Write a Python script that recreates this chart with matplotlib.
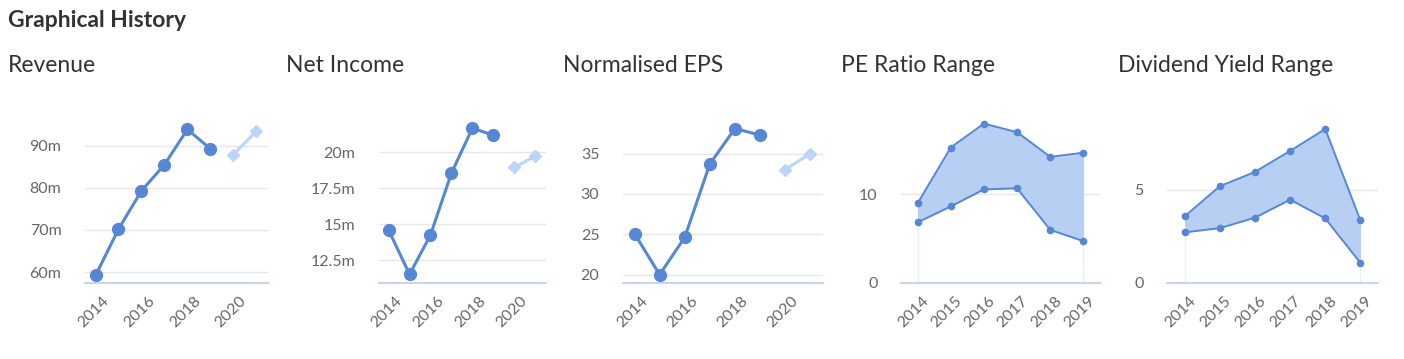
import pandas as pd
import numpy as np
import matplotlib
matplotlib.use("Agg")
import matplotlib.pyplot as plt
import matplotlib.dates as mdates
from matplotlib.transforms import ScaledTranslation

plt.rcParams['font.family'] = ['Lato', 'DejaVu Sans']

# === data ===
hist_dates = ['2013-11-30', '2014-11-30', '2015-11-30', '2016-11-30', '2017-11-30', '2018-11-30']
fc_dates = ['2019-11-30', '2020-11-30']

revenue = [59.2, 70.2, 79.3, 85.5, 93.9, 89.3]
revenue_fc = [87.9, 93.4]

net_income = [14.59, 11.53, 14.26, 18.56, 21.66, 21.17]
net_income_fc = [18.94, 19.72]

eps = [25.07, 20.0, 24.6, 33.7, 38.1, 37.3]
eps_fc = [33.0, 35.0]

range_years = ['2014', '2015', '2016', '2017', '2018', '2019']
pe_high = [8.98, 15.27, 17.97, 17.0, 14.22, 14.69]
pe_low = [6.83, 8.63, 10.55, 10.67, 5.98, 4.72]
dy_high = [3.58, 5.2, 5.97, 7.10, 8.28, 3.36]
dy_low = [2.72, 2.95, 3.51, 4.48, 3.47, 1.08]

# === styles ===
BLUE = '#5787d4'
LIGHT = '#bcd4f7'
FILL = '#b8cff4'
GRID = '#e6e6e6'
AXIS = '#c8d5ee'
TICK = '#666666'
TEXT = '#333333'

W, H = 1404, 359
fig = plt.figure(figsize=(W / 100, H / 100), dpi=100)


def make_axes(x0, x1, y0=110, y1=283):
    return fig.add_axes([x0 / W, (H - y1) / H, (x1 - x0) / W, (y1 - y0) / H])


def style(ax, yticks, ylabels):
    for s in ['top', 'right', 'left']:
        ax.spines[s].set_visible(False)
    ax.spines['bottom'].set_color(AXIS)
    ax.spines['bottom'].set_linewidth(1.5)
    ax.set_yticks(yticks)
    ax.set_yticklabels(ylabels)
    ax.tick_params(axis='y', length=0, pad=17, labelsize=11.5, labelcolor=TICK)
    ax.tick_params(axis='x', length=0, pad=4, labelsize=11.5, labelcolor=TICK)
    ax.grid(axis='y', color=GRID, lw=1)
    ax.set_axisbelow(True)
    for lab in ax.get_xticklabels():
        lab.set_rotation(45)
        lab.set_ha('right')
        lab.set_va('center')
        lab.set_rotation_mode('anchor')
        lab.set_transform(lab.get_transform() + ScaledTranslation(0.09, -0.1, fig.dpi_scale_trans))


hd = pd.to_datetime(hist_dates)
fd = pd.to_datetime(fc_dates)
xlim = (pd.Timestamp('2013-06-15'), pd.Timestamp('2021-06-05'))


def line_panel(x0, x1, vals, fc, ylim, yticks, ylabels):
    ax = make_axes(x0, x1)
    ax.plot(hd, vals, color=BLUE, lw=2.2, marker='o', ms=8.5, zorder=3, clip_on=False)
    ax.plot(fd, fc, color=LIGHT, lw=2.2, marker='D', ms=6, zorder=3, clip_on=False)
    ax.set_xlim(*xlim)
    ax.set_ylim(*ylim)
    ax.xaxis.set_major_locator(mdates.YearLocator(2))
    ax.xaxis.set_major_formatter(mdates.DateFormatter('%Y'))
    style(ax, yticks, ylabels)
    return ax


def range_panel(x0, x1, low, high, ylim, yticks, ylabels):
    ax = make_axes(x0, x1)
    idx = np.arange(len(range_years))
    ax.vlines([idx[0], idx[-1]], 0, [high[0], high[-1]], color='#e8edf8', lw=1, zorder=1)
    ax.fill_between(idx, low, high, color=FILL, lw=0, zorder=2)
    ax.plot(idx, high, color=BLUE, lw=1.4, marker='o', ms=4.5, zorder=3)
    ax.plot(idx, low, color=BLUE, lw=1.4, marker='o', ms=4.5, zorder=3)
    ax.set_xlim(-0.5, len(idx) - 0.5)
    ax.set_ylim(*ylim)
    ax.set_xticks(idx)
    ax.set_xticklabels(range_years)
    style(ax, yticks, ylabels)
    return ax


line_panel(85, 268, revenue, revenue_fc, (57.4, 98.5),
           [60, 70, 80, 90], ['60m', '70m', '80m', '90m'])
line_panel(379, 546, net_income, net_income_fc, (10.93, 22.92),
           [12.5, 15, 17.5, 20], ['12.5m', '15m', '17.5m', '20m'])
line_panel(623, 823, eps, eps_fc, (18.96, 40.4),
           [20, 25, 30, 35], ['20', '25', '30', '35'])
range_panel(901, 1100, pe_low, pe_high, (0, 19.5), [0, 10], ['0', '10'])
range_panel(1167, 1378, dy_low, dy_high, (0, 9.3), [0, 5], ['0', '5'])

fig.text(8 / W, 1 - 27 / H, 'Graphical History', fontsize=16.5, fontweight='bold', color=TEXT)
for x, t in [(8, 'Revenue'), (286, 'Net Income'), (563, 'Normalised EPS'),
             (841, 'PE Ratio Range'), (1118, 'Dividend Yield Range')]:
    fig.text(x / W, 1 - 71.5 / H, t, fontsize=16.5, color=TEXT)

fig.savefig('out.png', dpi=100)
